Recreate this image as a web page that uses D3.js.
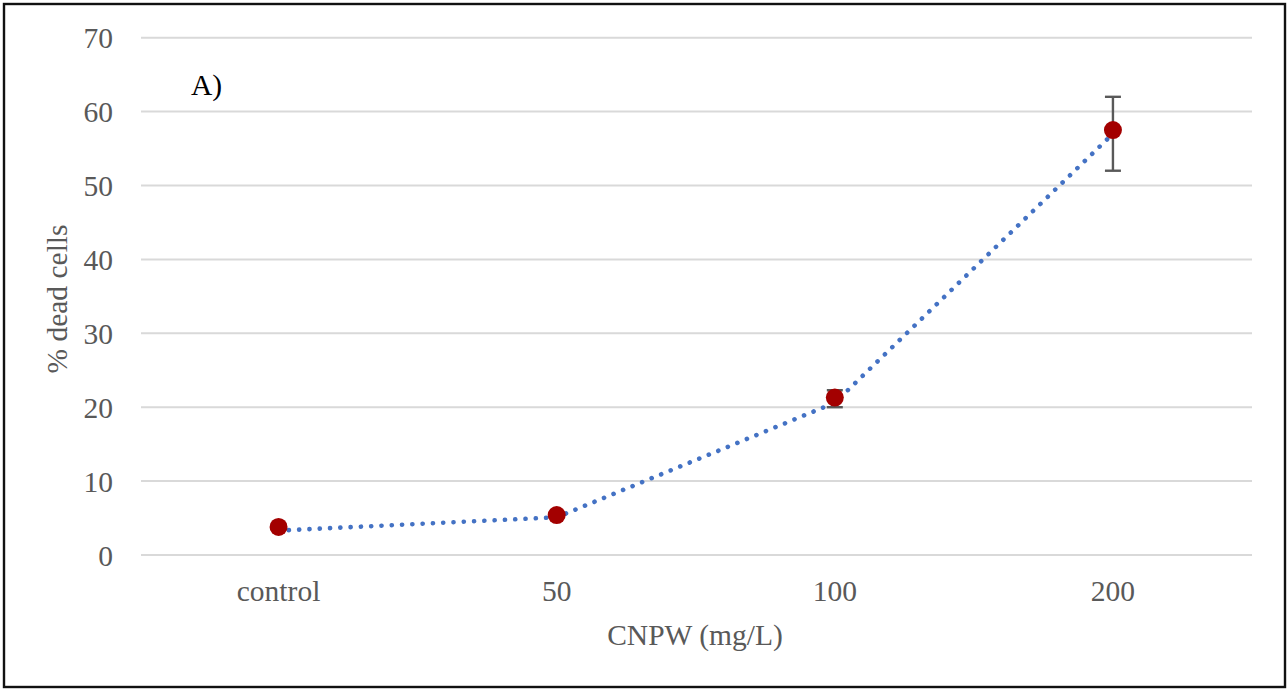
<!DOCTYPE html>
<html>
<head>
<meta charset="utf-8">
<script src="https://cdn.jsdelivr.net/npm/d3@7"></script>
<style>
  html, body { margin: 0; padding: 0; background: #fff; }
  svg { display: block; }
</style>
</head>
<body>
<svg id="chart" width="1287" height="691"></svg>
<script>
// ---- data ----
const categories = ["control", "50", "100", "200"];
const markerValues = [3.8, 5.4, 21.3, 57.5];   // red markers
const lineValues = [3.3, 5.1, 20.6, 57.0];     // dotted blue line
const errMinus = [0.3, 0.3, 1.3, 5.5];
const errPlus = [0.3, 0.3, 1.0, 4.5];
const yTicks = [0, 10, 20, 30, 40, 50, 60, 70];
const xTitle = "CNPW (mg/L)";
const yTitle = "% dead cells";
const panelLabel = "A)";

// ---- layout ----
const W = 1287, H = 691;
const plot = { left: 139.5, right: 1252, top: 37.7, bottom: 555 };
const font = "'Liberation Serif', 'Times New Roman', serif";
const textColor = "#595959";

const svg = d3.select("#chart");

svg.append("rect")
  .attr("x", 4).attr("y", 4)
  .attr("width", 1281).attr("height", 683)
  .attr("fill", "#fff").attr("stroke", "#111").attr("stroke-width", 2.4);

const x = d3.scaleBand().domain(categories).range([plot.left, plot.right]).padding(0);
const xc = d => x(d) + x.bandwidth() / 2;
const y = d3.scaleLinear().domain([0, 70]).range([plot.bottom, plot.top]);

// gridlines
svg.append("g").selectAll("line").data(yTicks).join("line")
  .attr("x1", 141).attr("x2", plot.right)
  .attr("y1", d => y(d)).attr("y2", d => y(d))
  .attr("stroke", "#d9d9d9").attr("stroke-width", 2);

// y axis labels
const yAxis = d3.axisLeft(y).tickValues(yTicks).tickSize(0).tickPadding(0).tickFormat(d3.format("d"));
const gy = svg.append("g").attr("transform", "translate(113,0)").call(yAxis);
gy.select(".domain").remove();
gy.selectAll("text")
  .attr("font-family", font).attr("font-size", 29.5).attr("fill", textColor)
  .attr("text-anchor", "end").attr("dy", "0.34em").attr("x", 0);

// x axis labels
const xAxis = d3.axisBottom(x).tickSize(0).tickPadding(0);
const gx = svg.append("g").call(xAxis);
gx.select(".domain").remove();
gx.selectAll("text")
  .attr("font-family", font).attr("font-size", 29.5).attr("fill", textColor)
  .attr("y", 601).attr("dy", 0).attr("text-anchor", "middle");

// axis titles
svg.append("text")
  .attr("x", 695).attr("y", 645)
  .attr("text-anchor", "middle")
  .attr("font-family", font).attr("font-size", 29.5).attr("fill", textColor)
  .text(xTitle);

svg.append("text")
  .attr("transform", "translate(67,299) rotate(-90)")
  .attr("text-anchor", "middle")
  .attr("font-family", font).attr("font-size", 29.5).attr("fill", textColor)
  .text(yTitle);

// panel label
svg.append("text")
  .attr("x", 191).attr("y", 95)
  .attr("font-family", font).attr("font-size", 29.5).attr("fill", "#000")
  .text(panelLabel);

// dotted line
const lineData = categories.map((c, i) => ({ c, v: lineValues[i] }));
svg.append("path")
  .datum(lineData)
  .attr("d", d3.line().x(d => xc(d.c)).y(d => y(d.v)))
  .attr("fill", "none")
  .attr("stroke", "#4472C4")
  .attr("stroke-width", 4.6)
  .attr("stroke-linecap", "round")
  .attr("stroke-dasharray", "0.1 10.2");

// error bars
const errData = categories.map((c, i) => ({ c, v: markerValues[i], lo: markerValues[i] - errMinus[i], hi: markerValues[i] + errPlus[i] }));
const eg = svg.append("g").attr("stroke", "#595959").attr("stroke-width", 2.4);
eg.selectAll("line.v").data(errData).join("line").attr("class", "v")
  .attr("x1", d => xc(d.c)).attr("x2", d => xc(d.c))
  .attr("y1", d => y(d.lo)).attr("y2", d => y(d.hi));
eg.selectAll("line.top").data(errData).join("line").attr("class", "top")
  .attr("x1", d => xc(d.c) - 8).attr("x2", d => xc(d.c) + 8)
  .attr("y1", d => y(d.hi)).attr("y2", d => y(d.hi));
eg.selectAll("line.bot").data(errData).join("line").attr("class", "bot")
  .attr("x1", d => xc(d.c) - 8).attr("x2", d => xc(d.c) + 8)
  .attr("y1", d => y(d.lo)).attr("y2", d => y(d.lo));

// markers
svg.append("g").selectAll("circle").data(errData).join("circle")
  .attr("cx", d => xc(d.c)).attr("cy", d => y(d.v))
  .attr("r", 9)
  .attr("fill", "#A30000");
</script>
</body>
</html>
